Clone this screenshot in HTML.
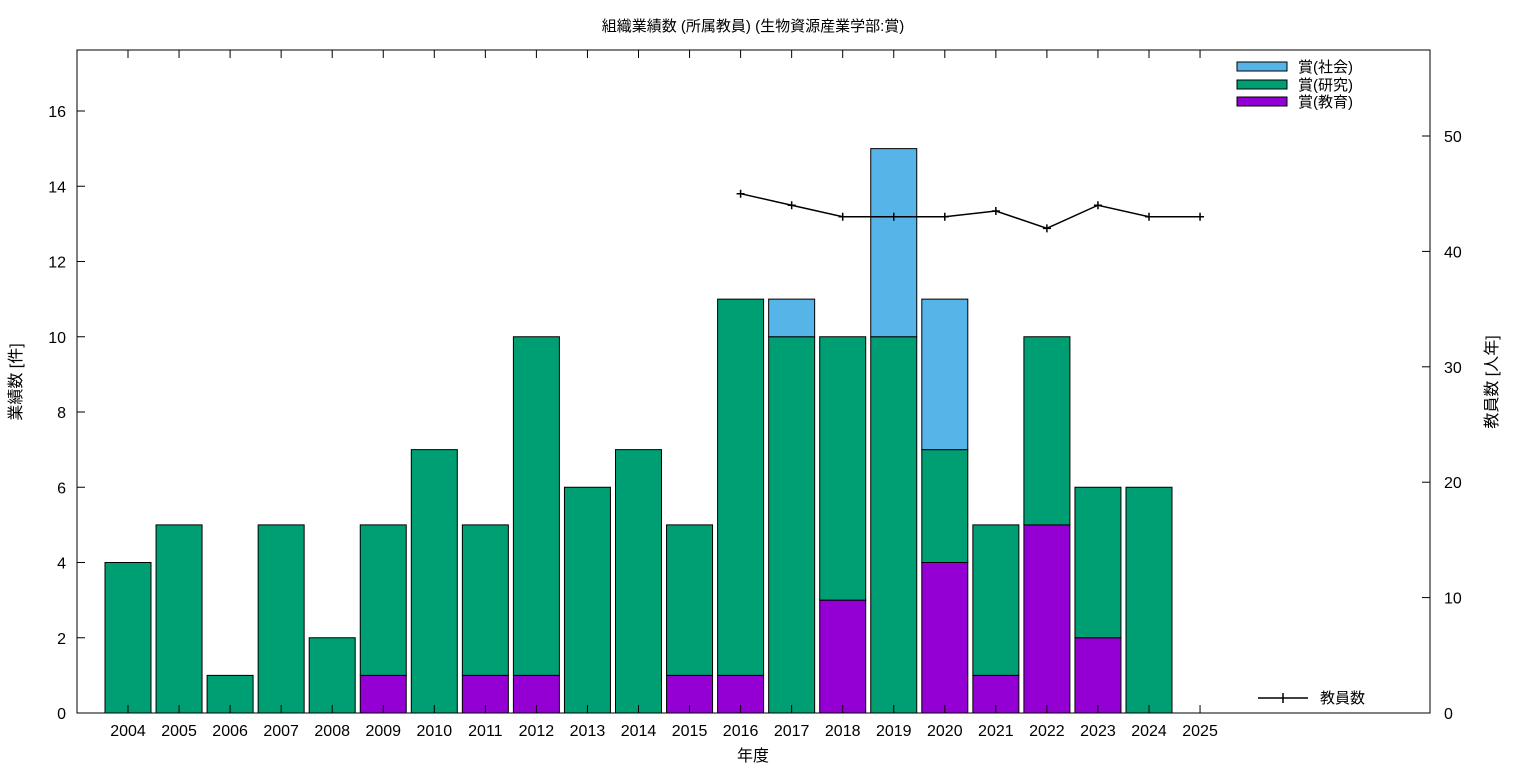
<!DOCTYPE html>
<html><head><meta charset="utf-8"><style>
html,body{margin:0;padding:0;background:#fff;}
svg text{font-family:"Liberation Sans","Noto Sans CJK JP",sans-serif;}
</style></head><body>
<svg id="chart" width="1536" height="768" xmlns="http://www.w3.org/2000/svg">
<text x="753" y="31" font-size="15" text-anchor="middle">組織業績数 (所属教員) (生物資源産業学部:賞)</text>
<text x="753" y="761" font-size="16" text-anchor="middle">年度</text>
<text transform="translate(21,382) rotate(-90)" font-size="16" text-anchor="middle">業績数 [件]</text>
<text transform="translate(1497,382) rotate(-90)" font-size="16" text-anchor="middle">教員数 [人年]</text>
<g id="bars"></g>
<g id="axes"></g>
<g id="line"></g>
<g id="legend">
<rect x="1237" y="62" width="50" height="9" fill="#56b4e9" stroke="#000" stroke-width="1"/>
<text x="1298" y="72" font-size="15">賞(社会)</text>
<rect x="1237" y="80" width="50" height="9" fill="#009e73" stroke="#000" stroke-width="1"/>
<text x="1298" y="90" font-size="15">賞(研究)</text>
<rect x="1237" y="97" width="50" height="9" fill="#9400d3" stroke="#000" stroke-width="1"/>
<text x="1298" y="107" font-size="15">賞(教育)</text>
<line x1="1258" y1="698" x2="1308" y2="698" stroke="#000" stroke-width="1.5"/>
<line x1="1283" y1="693" x2="1283" y2="703" stroke="#000" stroke-width="1.5"/>
<text x="1320" y="703" font-size="15">教員数</text>
</g>
</svg>
<script>
const years=["2004","2005","2006","2007","2008","2009","2010","2011","2012","2013","2014","2015","2016","2017","2018","2019","2020","2021","2022","2023","2024","2025"];
const education=[0,0,0,0,0,1,0,1,1,0,0,1,1,0,3,0,4,1,5,2,0,0];
const research=[4,5,1,5,2,4,7,4,9,6,7,4,10,10,7,10,3,4,5,4,6,0];
const social=[0,0,0,0,0,0,0,0,0,0,0,0,0,1,0,5,4,0,0,0,0,0];
const staffYears=["2016","2017","2018","2019","2020","2021","2022","2023","2024","2025"];
const staff=[45,44,43,43,43,43.5,42,44,43,43];
const yTicks=[0,2,4,6,8,10,12,14,16];
const y2Ticks=[0,10,20,30,40,50];

const L=77,R=1430,T=50,B=713;
const NS="http://www.w3.org/2000/svg";
const xs=i=>128+(i)*(R-128)/25.5*1;
function xScale(i){return 128+i*51.05;}
function yScale(v){return B-v*37.625;}
function y2Scale(v){return B-v*11.54;}
function mk(tag,attrs,parent){const e=document.createElementNS(NS,tag);for(const k in attrs)e.setAttribute(k,attrs[k]);parent.appendChild(e);return e;}
const bars=document.getElementById('bars'),axes=document.getElementById('axes'),line=document.getElementById('line');
const bw=46;
years.forEach((y,i)=>{
  const cx=xScale(i);let base=0;
  [[education,'#9400d3','education'],[research,'#009e73','research'],[social,'#56b4e9','social']].forEach(([arr,col,nm])=>{
    const v=arr[i];if(v>0){
      const r=mk('rect',{x:cx-bw/2,y:yScale(base+v),width:bw,height:yScale(base)-yScale(base+v),fill:col,stroke:'#000','stroke-width':1},bars);
      
      
    }
    base+=v;
  });
});
const frame=mk('rect',{x:L,y:T,width:R-L,height:B-T,fill:'none',stroke:'#000','stroke-width':1},axes);


years.forEach((y,i)=>{
  const x=xScale(i);
  mk('line',{x1:x,y1:B,x2:x,y2:B-8,stroke:'#000'},axes);
  mk('line',{x1:x,y1:T,x2:x,y2:T+8,stroke:'#000'},axes);
  const t=mk('text',{x:x,y:B+23,'font-size':16,'text-anchor':'middle'},axes);t.textContent=y;
  
  
});
yTicks.forEach(v=>{
  const y=yScale(v);
  mk('line',{x1:L,y1:y,x2:L+8,y2:y,stroke:'#000'},axes);
  const t=mk('text',{x:L-11,y:y+6,'font-size':16,'text-anchor':'end'},axes);t.textContent=v;
  
  
});
y2Ticks.forEach(v=>{
  const y=y2Scale(v);
  mk('line',{x1:R,y1:y,x2:R-8,y2:y,stroke:'#000'},axes);
  const t=mk('text',{x:R+14,y:y+6,'font-size':16,'text-anchor':'start'},axes);t.textContent=v;
  
  
});
const pts=staffYears.map((y,j)=>[xScale(years.indexOf(y)),y2Scale(staff[j])]);
const pl=mk('polyline',{points:pts.map(p=>p.join(',')).join(' '),fill:'none',stroke:'#000','stroke-width':1.5},line);


pts.forEach(p=>{
  const g=mk('path',{d:`M${p[0]-4},${p[1]}H${p[0]+4}M${p[0]},${p[1]-4}V${p[1]+4}`,stroke:'#000','stroke-width':1.5},line);
  
  
});
</script>
</body></html>
